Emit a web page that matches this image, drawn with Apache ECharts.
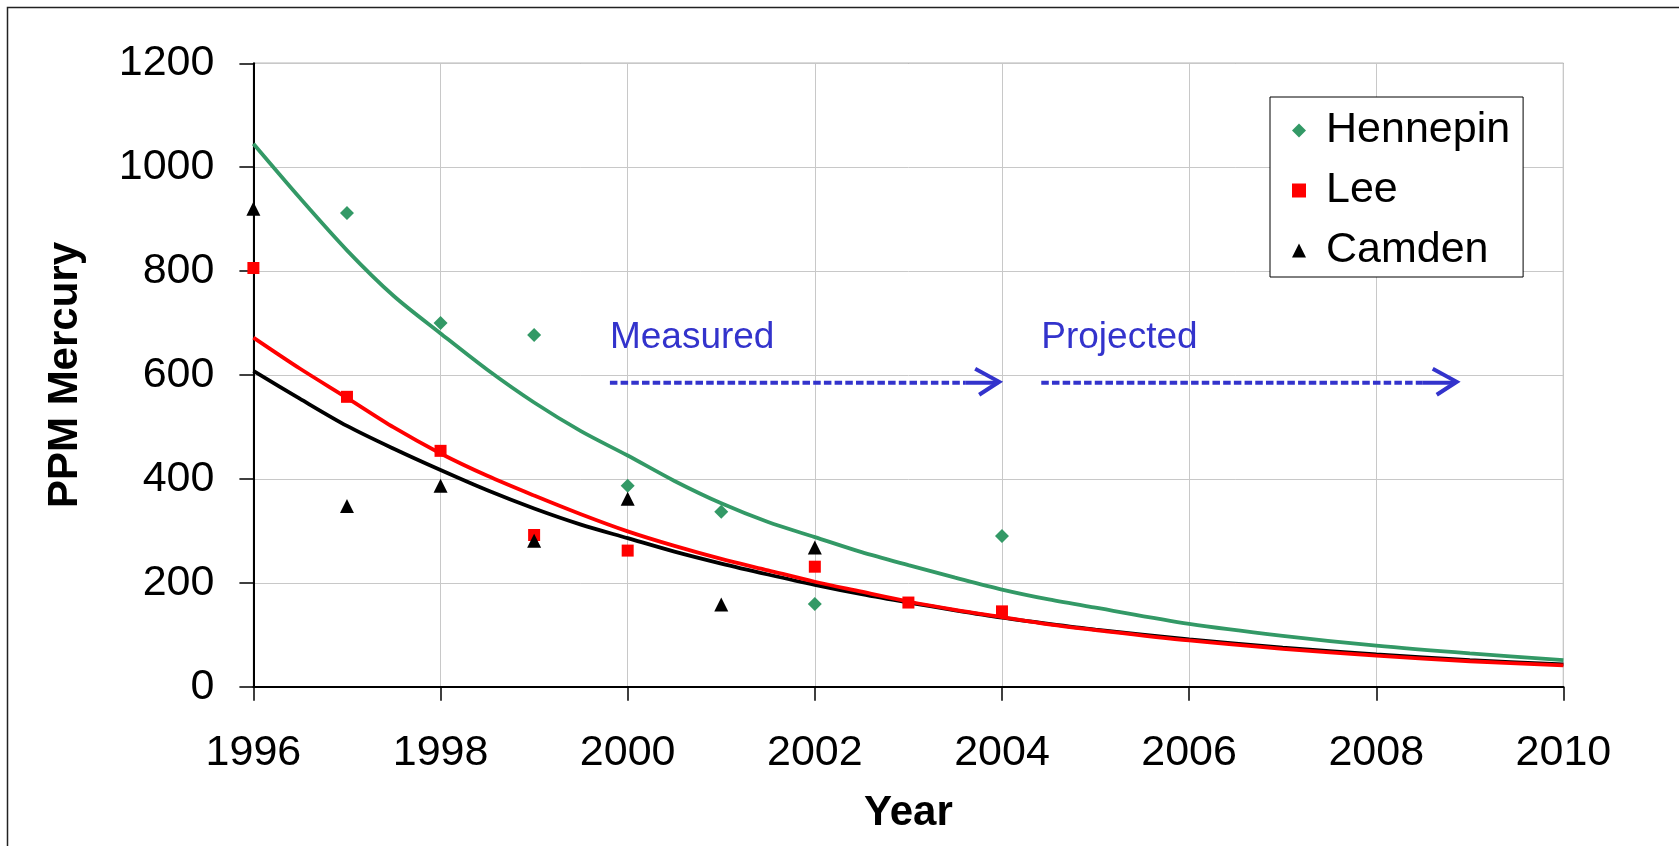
<!DOCTYPE html>
<html>
<head>
<meta charset="utf-8">
<script src="https://cdn.jsdelivr.net/npm/echarts@6/dist/echarts.min.js"></script>
<style>
  html, body { margin: 0; padding: 0; background: #ffffff; }
  #chart { width: 1679px; height: 846px; }
</style>
</head>
<body>
<div id="chart"></div>
<script>
// ---- Data ----
const hennepinYears = [1997, 1998, 1999, 2000, 2001, 2002, 2004];
const hennepinPPM   = [912, 700, 677, 387, 337, 159, 290];

const leeYears = [1996, 1997, 1998, 1999, 2000, 2002, 2003, 2004];
const leePPM   = [806, 558, 454, 292, 262, 231, 162, 145];

const camdenYears = [1996, 1997, 1998, 1999, 2000, 2001, 2002];
const camdenPPM   = [920, 348, 387, 281, 362, 158, 268];

// Fitted / projected decay curves
const curveYears  = [1996, 1996.5, 1997, 1997.5, 1998, 1998.5, 1999, 1999.5, 2000, 2000.5, 2001, 2001.5,
                     2002, 2002.5, 2003, 2003.5, 2004, 2004.5, 2005, 2006, 2007, 2008, 2009, 2010];
const hennepinFit = [1045, 940, 840, 752, 680, 610, 547, 492, 445, 396, 353, 317,
                     288, 259, 234, 210, 187, 168, 152, 121, 98, 79, 64, 51];
const leeFit      = [672, 612, 556, 499, 449, 406, 368, 332, 299, 271, 246, 224,
                     202, 183, 164, 148, 134, 120, 109, 89, 73, 60, 49, 41];
const camdenFit   = [608, 554, 502, 458, 417, 378, 343, 312, 286, 260, 237, 216,
                     196, 178, 162, 147, 133, 121, 110, 91, 75, 62, 51, 43];

const seriesNames = ['Hennepin', 'Lee', 'Camden'];
const xTicks = { min: 1996, max: 2010, interval: 2 };
const yTicks = { min: 0, max: 1200, interval: 200 };

// Annotation anchors (data coordinates)
const annotations = [
  { text: 'Measured',  from: 1999.81, to: 2003.97 },
  { text: 'Projected', from: 2004.42, to: 2008.86 }
];
const annotationLineValue = 585;
const annotationTextValue = 672;

// ---- Helpers ----
const zip = (xs, ys) => xs.map((x, i) => [x, ys[i]]);
const FONT = "'Liberation Sans', Arial, Helvetica, sans-serif";
const GREEN = '#339966', RED = '#FF0000', BLACK = '#000000', BLUE = '#3333CC';

const chart = echarts.init(document.getElementById('chart'), null, { renderer: 'canvas' });

const option = {
  backgroundColor: '#ffffff',
  animation: false,
  textStyle: { fontFamily: FONT },
  grid: {
    left: 253.4, right: 115.6, top: 63.3, bottom: 159.3,
    show: true, borderColor: '#555555', borderWidth: 1, backgroundColor: 'transparent'
  },
  legend: {
    orient: 'vertical',
    left: 1270, top: 97,
    padding: [12, 13, 5, 22],
    itemWidth: 14, itemHeight: 14, itemGap: 17,
    symbolKeepAspect: true,
    backgroundColor: '#ffffff',
    borderColor: '#000000', borderWidth: 1, borderRadius: 0,
    textStyle: { fontSize: 43, color: '#000', fontFamily: FONT, lineHeight: 43, padding: [0, 0, 0, 15] },
    data: [
      { name: seriesNames[0], icon: 'diamond' },
      { name: seriesNames[1], icon: 'rect' },
      { name: seriesNames[2], icon: 'triangle' }
    ]
  },
  xAxis: {
    type: 'value',
    min: xTicks.min, max: xTicks.max, interval: xTicks.interval,
    name: 'Year', nameLocation: 'middle', nameGap: 106,
    nameTextStyle: { fontSize: 42, fontWeight: 'bold', color: '#000', fontFamily: FONT },
    axisLine: { show: true, onZero: false, lineStyle: { color: '#000', width: 2 } },
    axisTick: { show: true, inside: false, length: 14, lineStyle: { color: '#000', width: 1.5 } },
    axisLabel: { fontSize: 43, color: '#000', margin: 45, formatter: v => String(v), fontFamily: FONT },
    splitLine: { show: true, lineStyle: { color: '#c8c8c8', width: 1 } }
  },
  yAxis: {
    type: 'value',
    min: yTicks.min, max: yTicks.max, interval: yTicks.interval,
    name: 'PPM Mercury', nameLocation: 'middle', nameGap: 167, nameRotate: 90,
    nameTextStyle: { fontSize: 42, fontWeight: 'bold', color: '#000', fontFamily: FONT },
    axisLine: { show: true, onZero: false, lineStyle: { color: '#000', width: 2 } },
    axisTick: { show: true, inside: false, length: 14, lineStyle: { color: '#000', width: 1.5 } },
    axisLabel: { fontSize: 43, color: '#000', margin: 39, formatter: v => String(v), fontFamily: FONT },
    splitLine: { show: true, lineStyle: { color: '#c8c8c8', width: 1 } }
  },
  series: [
    {
      name: 'Hennepin fit', type: 'line', data: zip(curveYears, hennepinFit),
      smooth: 0.3, showSymbol: false, symbol: 'none',
      lineStyle: { color: GREEN, width: 3.8 }, z: 2, silent: true
    },
    {
      name: 'Camden fit', type: 'line', data: zip(curveYears, camdenFit),
      smooth: 0.3, showSymbol: false, symbol: 'none',
      lineStyle: { color: BLACK, width: 3.8 }, z: 2, silent: true
    },
    {
      name: 'Lee fit', type: 'line', data: zip(curveYears, leeFit),
      smooth: 0.3, showSymbol: false, symbol: 'none',
      lineStyle: { color: RED, width: 3.8 }, z: 2, silent: true
    },
    {
      name: seriesNames[0], type: 'scatter', data: zip(hennepinYears, hennepinPPM),
      symbol: 'diamond', symbolSize: 14, itemStyle: { color: GREEN, opacity: 1 }, z: 5
    },
    {
      name: seriesNames[1], type: 'scatter', data: zip(leeYears, leePPM),
      symbol: 'rect', symbolSize: 12, itemStyle: { color: RED, opacity: 1 }, z: 5
    },
    {
      name: seriesNames[2], type: 'scatter', data: zip(camdenYears, camdenPPM),
      symbol: 'triangle', symbolSize: 14, itemStyle: { color: BLACK, opacity: 1 }, z: 5
    }
  ]
};

chart.setOption(option);

// ---- Annotations (positioned through the chart's own scales) ----
const px = (x, y) => chart.convertToPixel({ gridIndex: 0 }, [x, y]);
const graphics = [
  {
    type: 'rect', silent: true, z: 0,
    shape: { x: 7.5, y: 7.5, width: 1720, height: 900 },
    style: { fill: null, stroke: '#222222', lineWidth: 1.5 }
  }
];
annotations.forEach(a => {
  const p0 = px(a.from, annotationLineValue);
  const p1 = px(a.to, annotationLineValue);
  const pt = px(a.from, annotationTextValue);
  graphics.push({
    type: 'line', silent: true, z: 10,
    shape: { x1: p0[0], y1: p0[1], x2: p1[0] - 34, y2: p1[1] },
    style: { stroke: BLUE, lineWidth: 4, lineDash: [7.5, 3.2] }
  });
  graphics.push({
    type: 'line', silent: true, z: 10,
    shape: { x1: p1[0] - 34, y1: p1[1], x2: p1[0] - 1, y2: p1[1] },
    style: { stroke: BLUE, lineWidth: 4 }
  });
  graphics.push({
    type: 'polyline', silent: true, z: 10,
    shape: { points: [[p1[0] - 24, p1[1] - 14], [p1[0], p1[1] - 1], [p1[0] - 20, p1[1] + 12]] },
    style: { stroke: BLUE, lineWidth: 4, fill: null, lineJoin: 'miter' }
  });
  graphics.push({
    type: 'text', silent: true, z: 10,
    x: p0[0], y: pt[1],
    style: { text: a.text, fill: BLUE, font: "37px " + FONT, textAlign: 'left', textVerticalAlign: 'middle', verticalAlign: 'middle' }
  });
});
chart.setOption({ graphic: graphics });
</script>
</body>
</html>
